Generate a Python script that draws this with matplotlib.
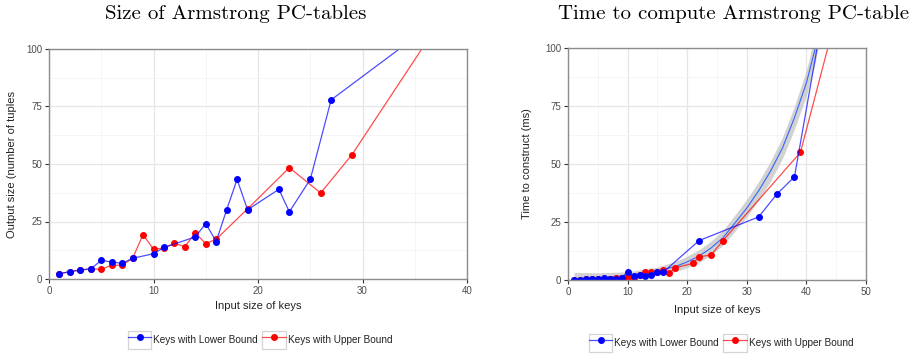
import numpy as np
import matplotlib
matplotlib.use("Agg")
import matplotlib.pyplot as plt
from matplotlib.patches import Rectangle
from matplotlib.legend_handler import HandlerLine2D
from matplotlib.ticker import MultipleLocator

# Size of Armstrong PC-tables
size_lb_x = [1, 2, 3, 4, 5, 6, 7, 8, 10, 11, 14, 15, 16, 17, 18, 19, 22, 23, 25, 27, 35]
size_lb_y = [2.3, 3.2, 3.9, 4.4, 8.1, 7.4, 6.8, 9.0, 11.0, 13.7, 18.3, 24.1, 16.3, 30.1,
             43.3, 30.1, 39.0, 29.2, 43.3, 77.9, 105]
size_ub_x = [1, 2, 3, 4, 5, 6, 7, 8, 9, 10, 11, 12, 13, 14, 15, 16, 19, 23, 26, 29, 38]
size_ub_y = [2.3, 3.2, 3.9, 4.4, 4.2, 6.0, 6.0, 9.0, 19.3, 12.9, 13.5, 15.5, 14.1, 20.0,
             15.4, 17.3, 30.5, 48.4, 37.4, 54.1, 116]

# Time to compute Armstrong PC-table (ms)
time_lb_x = [1, 2, 3, 4, 5, 6, 7, 8, 9, 10, 11, 12, 13, 14, 15, 16, 22, 32, 35, 38, 42]
time_lb_y = [0.2, 0.2, 0.3, 0.3, 0.5, 0.8, 0.5, 0.6, 0.9, 3.6, 1.8, 2.0, 1.6, 2.2, 3.3, 3.4,
             17.0, 27.2, 36.9, 44.5, 103]
time_ub_x = [1, 2, 3, 4, 5, 6, 7, 8, 9, 10, 11, 12, 13, 14, 15, 16, 17, 18, 21, 22, 24, 26, 39, 44]
time_ub_y = [0.2, 0.2, 0.3, 0.3, 0.4, 0.5, 0.5, 0.9, 0.8, 1.1, 1.0, 2.0, 3.6, 3.6, 3.3, 4.3,
             2.9, 5.3, 7.2, 10.0, 10.8, 17.0, 55.0, 104]

# smoothed trend with its confidence band
fit_x = [1, 5, 10, 15, 18, 20, 22, 24, 26, 28, 30, 32, 34, 36, 38, 40, 41.5, 42.5]
fit_y = [0.5, 0.9, 2.0, 3.8, 5.8, 7.8, 10.3, 13.8, 18.2, 24.5, 31.0, 38.5, 47.0, 57.0,
         70.0, 85.0, 100.0, 113.0]
fit_se = [2.8, 2.2, 1.5, 1.8, 2.2, 2.5, 2.8, 3.0, 3.2, 3.5, 3.8, 4.0, 4.3, 4.6, 5.0,
          5.5, 6.0, 6.0]

BLUE = "#0000ff"
RED = "#ff0000"
TXT = "#4d4d4d"


class BoxedLine(HandlerLine2D):
    def create_artists(self, legend, orig_handle, xdescent, ydescent, width, height,
                       fontsize, trans):
        artists = super().create_artists(legend, orig_handle, xdescent, ydescent,
                                         width, height, fontsize, trans)
        box = Rectangle((-xdescent, -ydescent), width, height, transform=trans,
                        facecolor="white", edgecolor="#d4d4d4", lw=0.9)
        return [box] + list(artists)


def style_axes(ax, xmax, ymax):
    ax.set_xlim(0, xmax)
    ax.set_ylim(0, ymax)
    ax.xaxis.set_major_locator(MultipleLocator(10))
    ax.xaxis.set_minor_locator(MultipleLocator(5))
    ax.yaxis.set_major_locator(MultipleLocator(25))
    ax.yaxis.set_minor_locator(MultipleLocator(12.5))
    ax.grid(which="major", color="#e6e6e6", lw=0.9)
    ax.grid(which="minor", color="#f4f4f4", lw=0.6)
    ax.set_axisbelow(True)
    for sp in ax.spines.values():
        sp.set_color("#8c8c8c")
        sp.set_linewidth(1.0)
    ax.tick_params(which="major", length=3, width=0.8, color="#333333",
                   labelsize=7, labelcolor=TXT, pad=2)
    ax.tick_params(which="minor", length=0)


def draw_series(ax, x, y, color, label):
    rgba = matplotlib.colors.to_rgba(color, 0.7)
    line, = ax.plot(x, y, color=rgba, lw=0.9, marker="o", ms=4.0,
                    mfc=color, mec=color, label=label)
    return line


plt.rcParams["font.family"] = ["Liberation Sans", "DejaVu Sans"]
fig = plt.figure(figsize=(9.09, 3.56), dpi=100)

ax1 = fig.add_axes([49 / 909, 1 - 279 / 356, 418 / 909, 230 / 356])
ax2 = fig.add_axes([568 / 909, 1 - 280 / 356, 298 / 909, 232 / 356])

# left panel
style_axes(ax1, 40, 100)
draw_series(ax1, size_ub_x, size_ub_y, RED, "Keys with Upper Bound")
draw_series(ax1, size_lb_x, size_lb_y, BLUE, "Keys with Lower Bound")
ax1.set_xlabel("Input size of keys", fontsize=8, color="#222222")
ax1.set_ylabel("Output size (number of tuples", fontsize=8, color="#222222")
ax1.xaxis.set_label_coords(0.5, -0.095)
ax1.yaxis.set_label_coords(-0.077, 0.5)

# right panel
style_axes(ax2, 50, 100)
fx = np.array(fit_x)
fy = np.array(fit_y)
fs = np.array(fit_se)
ax2.fill_between(fx, fy - fs, fy + fs, color="#c4c4c4", alpha=0.75, lw=0)
ax2.plot(fx, fy, color="#3366ff", lw=0.8)
draw_series(ax2, time_ub_x, time_ub_y, RED, "Keys with Upper Bound")
draw_series(ax2, time_lb_x, time_lb_y, BLUE, "Keys with Lower Bound")
ax2.set_xlabel("Input size of keys", fontsize=8, color="#222222")
ax2.set_ylabel("Time to construct (ms)", fontsize=8, color="#222222")
ax2.xaxis.set_label_coords(0.5, -0.108)
ax2.yaxis.set_label_coords(-0.121, 0.5)

for ax, cx, cy in [(ax1, 260 / 909, 1 - 340 / 356), (ax2, 721 / 909, 1 - 343 / 356)]:
    handles, labels = ax.get_legend_handles_labels()
    order = [1, 0]
    leg = fig.legend([handles[i] for i in order], [labels[i] for i in order],
                     loc="center", bbox_to_anchor=(cx, cy), ncol=2, frameon=False,
                     fontsize=7.2, handlelength=2.35, handleheight=2.35,
                     handletextpad=0.2, columnspacing=0.4, borderpad=0,
                     handler_map={matplotlib.lines.Line2D: BoxedLine()})
    for t in leg.get_texts():
        t.set_color("#222222")

fig.text(236 / 909, 1 - 14 / 356, "Size of Armstrong PC-tables", ha="center", va="center",
         fontsize=15, family=["cmr10", "DejaVu Serif"])
fig.text(558 / 909, 1 - 14 / 356, "Time to compute Armstrong PC-table", ha="left",
         va="center", fontsize=15, family=["cmr10", "DejaVu Serif"])

fig.savefig("out.png", dpi=100)
